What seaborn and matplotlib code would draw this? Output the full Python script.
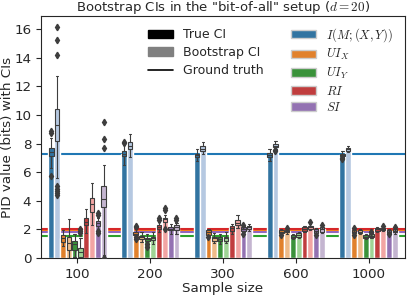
import matplotlib
matplotlib.use("Agg")
import matplotlib.pyplot as plt
import numpy as np
import pandas as pd
import seaborn as sns
from matplotlib.patches import Patch
from matplotlib.lines import Line2D

sizes = ["100", "200", "300", "600", "1000"]
measure_labels = ["$I(M;(X,Y))$", "$UI_X$", "$UI_Y$", "$RI$", "$SI$"]
ground_truth = [7.25, 1.92, 1.52, 2.0, 1.8]

# box statistics per sample size: (whislo, q1, median, q3, whishi)
I_true = [(6.3, 7.1, 7.4, 7.7, 8.35), (6.5, 7.1, 7.3, 7.5, 7.9), (6.8, 7.05, 7.2, 7.3, 7.6),
          (6.8, 7.05, 7.2, 7.35, 7.6), (7.05, 7.1, 7.2, 7.3, 7.5)]
I_true_fl = [[5.7, 8.7, 8.9], [8.05, 8.1], [], [], [6.9, 7.0]]
I_boot = [(5.6, 8.2, 9.3, 10.4, 12.7), (7.05, 7.6, 7.85, 8.1, 8.65), (7.3, 7.45, 7.6, 7.8, 8.1),
          (7.65, 7.75, 7.85, 7.95, 8.2), (7.4, 7.5, 7.6, 7.7, 7.85)]
I_boot_fl = [[4.4, 4.55, 4.7, 4.85, 5.0, 14.2, 15.2, 16.1], [], [], [7.45, 7.55], []]

UIx_true = [(0.84, 1.15, 1.4, 1.6, 1.95), (1.5, 1.6, 1.7, 1.85, 2.0), (1.55, 1.6, 1.8, 1.95, 2.05),
            (1.7, 1.75, 1.85, 1.95, 2.05), (1.7, 1.75, 1.85, 1.95, 2.05)]
UIx_true_fl = [[], [1.3, 1.45, 2.15, 2.25], [1.5], [1.6], [1.6, 2.1]]
UIx_boot = [(0.0, 0.56, 1.07, 1.45, 2.7), (1.1, 1.3, 1.45, 1.55, 1.85), (1.05, 1.2, 1.4, 1.5, 1.75),
            (1.7, 1.8, 1.9, 1.95, 2.05), (1.7, 1.75, 1.85, 1.95, 2.0)]
UIx_boot_fl = [[], [], [], [2.1], []]

UIy_true = [(0.1, 0.56, 0.95, 1.18, 1.67), (1.05, 1.2, 1.3, 1.4, 1.65), (1.0, 1.2, 1.35, 1.5, 1.7),
            (1.3, 1.4, 1.5, 1.6, 1.7), (1.35, 1.4, 1.5, 1.6, 1.65)]
UIy_true_fl = [[], [0.75, 0.95], [], [], []]
UIy_boot = [(0.0, 0.1, 0.4, 0.7, 1.37), (1.0, 1.25, 1.4, 1.5, 1.8), (1.05, 1.2, 1.4, 1.5, 1.85),
            (1.4, 1.5, 1.6, 1.75, 1.85), (1.4, 1.45, 1.55, 1.65, 1.75)]
UIy_boot_fl = [[1.75, 1.9, 2.0], [], [], [], [1.8, 1.85]]

RI_true = [(1.75, 2.3, 2.55, 2.8, 3.4), (1.8, 2.05, 2.2, 2.3, 2.5), (1.7, 1.9, 2.1, 2.25, 2.4),
           (1.8, 1.9, 2.0, 2.15, 2.25), (1.85, 1.9, 2.0, 2.1, 2.15)]
RI_true_fl = [[], [2.65, 2.8], [], [], []]
RI_boot = [(2.3, 3.2, 3.8, 4.2, 5.25), (2.2, 2.55, 2.7, 2.8, 3.0), (2.1, 2.3, 2.45, 2.65, 3.0),
           (1.95, 2.05, 2.15, 2.25, 2.4), (1.9, 1.95, 2.05, 2.1, 2.2)]
RI_boot_fl = [[], [2.0, 3.35, 3.5], [], [2.5], [2.25]]

SI_true = [(2.0, 2.25, 2.45, 2.6, 2.8), (1.7, 1.95, 2.05, 2.15, 2.4), (1.8, 1.9, 2.0, 2.15, 2.25),
           (1.7, 1.75, 1.9, 2.0, 2.1), (1.7, 1.75, 1.85, 1.95, 2.0)]
SI_true_fl = [[1.75, 1.9, 3.0, 3.15], [], [1.7, 2.3], [1.6], [1.65]]
SI_boot = [(0.2, 3.55, 4.15, 5.05, 6.5), (1.7, 1.95, 2.15, 2.3, 2.45), (1.9, 2.0, 2.15, 2.25, 2.4),
           (1.75, 1.85, 2.0, 2.15, 2.2), (1.7, 1.8, 1.9, 2.05, 2.1)]
SI_boot_fl = [[0.0, 7.7, 8.3, 9.5], [2.65, 2.8], [], [2.3], [2.15]]

series = [
    ("I true", I_true, I_true_fl), ("I boot", I_boot, I_boot_fl),
    ("UIx true", UIx_true, UIx_true_fl), ("UIx boot", UIx_boot, UIx_boot_fl),
    ("UIy true", UIy_true, UIy_true_fl), ("UIy boot", UIy_boot, UIy_boot_fl),
    ("RI true", RI_true, RI_true_fl), ("RI boot", RI_boot, RI_boot_fl),
    ("SI true", SI_true, SI_true_fl), ("SI boot", SI_boot, SI_boot_fl),
]
hue_order = [s[0] for s in series]

sns.set_style("ticks")
plt.rcParams["mathtext.fontset"] = "cm"
plt.rcParams["font.family"] = ["DejaVu Sans"]

rows = []
for name, stats, _ in series:
    for size, st in zip(sizes, stats):
        rows.append({"size": size, "series": name, "value": st[2]})
df = pd.DataFrame(rows)

pal20 = sns.color_palette("tab20", 20)[:10]
pal10 = sns.color_palette("tab10", 5)

fig = plt.figure(figsize=(4.07, 2.97), dpi=100)
ax = fig.add_axes([0.101, 0.131, 0.894, 0.815])

for gt, c in zip(ground_truth, pal10):
    ax.axhline(gt, color=c, lw=1.5, zorder=0.5)

sns.barplot(data=df, x="size", y="value", hue="series", hue_order=hue_order,
            order=sizes, palette=pal20, errorbar=None, saturation=0.75,
            width=0.8, legend=False, ax=ax, zorder=1)

bars = sorted(ax.patches, key=lambda p: p.get_x())
positions = [p.get_x() + p.get_width() / 2 for p in bars]

bxp_stats = []
facecols = []
for i_size in range(len(sizes)):
    for j, (name, stats, fl) in enumerate(series):
        lo, q1, med, q3, hi = stats[i_size]
        bxp_stats.append(dict(whislo=lo, q1=q1, med=med, q3=q3, whishi=hi,
                              fliers=fl[i_size]))
        facecols.append(sns.desaturate(pal20[j], 0.75))

gray = "#3d3d3d"
res = ax.bxp(bxp_stats, positions=positions, widths=0.062, patch_artist=True,
             manage_ticks=False, zorder=3,
             boxprops=dict(edgecolor=gray, linewidth=0.8),
             whiskerprops=dict(color=gray, linewidth=0.8),
             capprops=dict(color=gray, linewidth=0.8),
             medianprops=dict(color=gray, linewidth=0.8),
             flierprops=dict(marker="d", markerfacecolor=gray, markeredgecolor=gray,
                             markersize=3.3, linestyle="none"))
for box, fc in zip(res["boxes"], facecols):
    box.set_facecolor(fc)

ax.set_xlim(-0.5, 4.5)
ax.set_ylim(0, 16.9)
ax.set_yticks([0, 2, 4, 6, 8, 10, 12, 14, 16])
ax.set_xlabel("Sample size", fontsize=9.7, labelpad=1)
ax.set_ylabel("PID value (bits) with CIs", fontsize=9.7, labelpad=0)
ax.set_title('Bootstrap CIs in the "bit-of-all" setup ($d=20$)', fontsize=9.5, pad=1.5)
ax.tick_params(labelsize=9.7)

h1 = [Patch(facecolor="black", edgecolor="black", label="True CI"),
      Patch(facecolor="gray", edgecolor="gray", label="Bootstrap CI"),
      Line2D([], [], color="black", lw=1.2, label="Ground truth")]
leg1 = ax.legend(handles=h1, loc="upper left", bbox_to_anchor=(0.262, 0.995),
                 frameon=False, fontsize=9, labelspacing=0.38)
ax.add_artist(leg1)
h2 = [Patch(facecolor=sns.desaturate(c, 0.75), edgecolor="#cccccc", label=l)
      for c, l in zip(pal10, measure_labels)]
ax.legend(handles=h2, loc="upper left", bbox_to_anchor=(0.657, 1.005),
          frameon=False, fontsize=9, labelspacing=0.28)

fig.savefig("out.png", dpi=100)
